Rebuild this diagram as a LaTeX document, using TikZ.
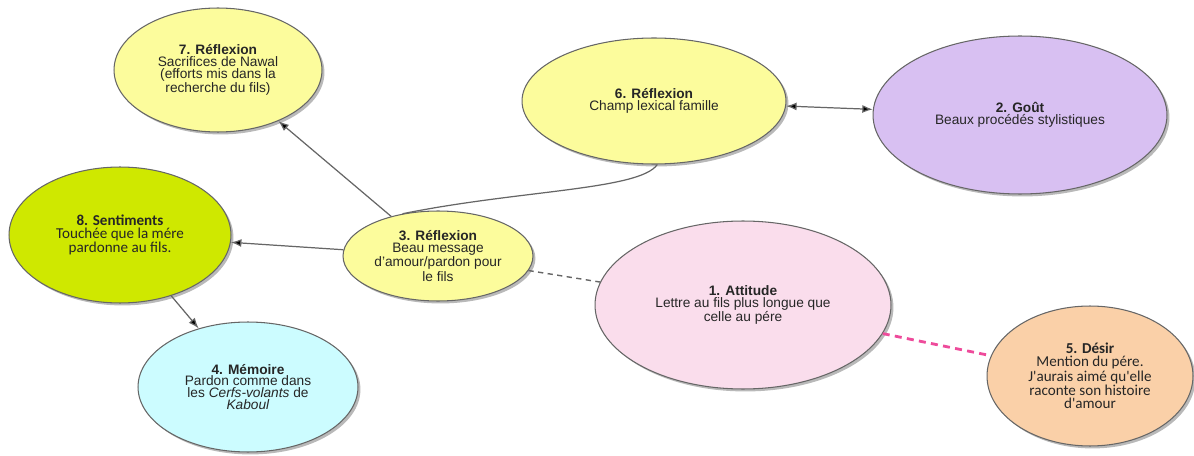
\documentclass[tikz,border=0pt]{standalone}
\usepackage{fontspec}
\setmainfont{Liberation Sans}
\newfontfamily\calib{Carlito}
\usepackage{tikz}
\usetikzlibrary{arrows.meta,shapes.geometric,shadows}

\definecolor{jaune}{HTML}{FCFC9C}
\definecolor{mauve}{HTML}{D8C0F2}
\definecolor{citron}{HTML}{CFE800}
\definecolor{ciel}{HTML}{CCFCFF}
\definecolor{rose}{HTML}{FADDEC}
\definecolor{peche}{HTML}{FAD0A8}
\definecolor{fuchsia}{HTML}{EE4B9B}

\begin{document}
\begin{tikzpicture}[x=0.02cm,y=-0.02cm]
\tikzset{bulle/.style = {ellipse,draw=black!60,line width=0.6pt,inner sep=0pt,align=center,
  text=black!85,font=\fontsize{7.8}{6.8}\selectfont,
  drop shadow={shadow xshift=1.4pt,shadow yshift=-1.4pt,fill=black!55}}}
\tikzset{edge/.style = {->,> = {Latex[length=6pt,width=4.5pt]},draw=black!60,line width=0.7pt}}

\useasboundingbox (0,0) rectangle (1194,456);

\node[bulle,fill=jaune,minimum width=4.16cm,minimum height=2.48cm] (R7) at (218,70)
  {\textbf{7. Réflexion}\\Sacrifices de Nawal\\(efforts mis dans la\\recherche du fils)};
\node[bulle,fill=jaune,minimum width=5.28cm,minimum height=2.52cm] (R6) at (654,101)
  {\textbf{6. Réflexion}\\Champ lexical famille};
\node[bulle,fill=mauve,minimum width=5.88cm,minimum height=3.16cm] (G2) at (1020,115)
  {\textbf{2. Goût}\\Beaux procédés stylistiques};
\node[bulle,fill=citron,minimum width=4.44cm,minimum height=2.72cm,font=\calib\fontsize{8.6}{7.2}\selectfont] (S8) at (120,235)
  {\textbf{8. Sentiments}\\Touchée que la mére\\pardonne au fils.};
\node[bulle,fill=jaune,minimum width=3.8cm,minimum height=1.8cm] (R3) at (438,256)
  {\textbf{3. Réflexion}\\Beau message\\d'amour/pardon pour\\le fils};
\node[bulle,fill=rose,minimum width=5.92cm,minimum height=3.36cm] (A1) at (743,305)
  {\textbf{1. Attitude}\\Lettre au fils plus longue que\\celle au pére};
\node[bulle,fill=ciel,minimum width=4.4cm,minimum height=2.6cm] (M4) at (248,387)
  {\textbf{4. Mémoire}\\Pardon comme dans\\les \textit{Cerfs-volants} de\\\textit{Kaboul}};
\node[bulle,fill=peche,minimum width=4.12cm,minimum height=2.8cm,font=\calib\fontsize{8.6}{7.2}\selectfont] (D5) at (1090,376)
  {\textbf{5. Désir}\\Mention du pére.\\J'aurais aimé qu'elle\\raconte son histoire\\d'amour};

\path [edge]

(R3) edge[] (R7)
(R3) edge[] (S8)
(S8) edge[] (M4)
(R6) edge[<->] (G2)
;

\draw[draw=black!60,line width=0.7pt] (R3.130) .. controls (520,190) and (640,190) .. (R6.-87);
\draw[draw=black!60,line width=0.8pt,dash pattern=on 3pt off 2.5pt] (R3) -- (A1);
\draw[draw=fuchsia,line width=1.6pt,dash pattern=on 4pt off 3pt] (A1) -- (D5);

\end{tikzpicture}
\end{document}
